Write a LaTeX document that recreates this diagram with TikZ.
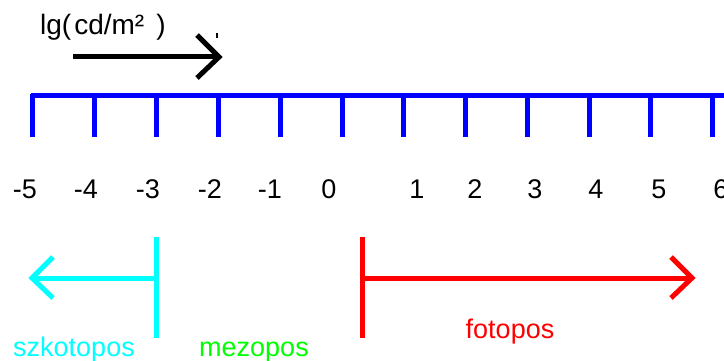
\documentclass[tikz,border=0pt]{standalone}
\usepackage{fontspec}
\setmainfont{Liberation Sans}
\definecolor{axisblue}{RGB}{0,0,255}
\definecolor{scotcyan}{RGB}{0,255,255}
\definecolor{mesogreen}{RGB}{0,255,0}
\definecolor{photored}{RGB}{255,0,0}
\tikzset{
  axisline/.style={draw=axisblue,line width=5pt},
  rangeline/.style={line width=5pt},
  chevron/.style={line width=5pt,line join=miter},
  ticklabel/.style={anchor=base,inner sep=0pt,font=\fontsize{27}{30}\selectfont},
  rangelabel/.style={anchor=base,inner sep=0pt,font=\fontsize{27}{30}\selectfont},
  unitlabel/.style={anchor=base west,inner sep=0pt,font=\fontsize{28}{30}\selectfont},
}
\begin{document}
\begin{tikzpicture}[x=1pt,y=-1pt]
\useasboundingbox (0,0) rectangle (724,361);
\clip (0,0) rectangle (724,361);
% top unit label and arrow
\node[unitlabel] (unit) at (40,35) {lg(\hspace{3pt}cd/m²\hspace{12pt})};
\coordinate (ua) at (73,57);
\coordinate (ub) at (219,57);
\draw[rangeline,black] (ua) -- (ub);
\draw[chevron,black] (197,35) -- (ub) -- (197,78);
\draw[line width=2pt,black] (217,33) -- (217,38);
% axis
\coordinate (axL) at (31,96);
\coordinate (axR) at (730,96);
\draw[axisline] (axL) -- (axR);
\foreach \x in {32,94,156,218,280,342,403,465,527,589,650,712}{
  \draw[axisline,line cap=butt] (\x,94) -- (\x,137);
}
% tick labels
\foreach \x/\t [count=\i] in {25/-5,86/-4,148/-3,210/-2,270/-1,329/0,417/1,475/2,535/3,596/4,659/5,721/6}{
  \node[ticklabel] (t\i) at (\x,198) {\t};
}
% scotopic range
\coordinate (cTop) at (156,237);
\coordinate (cBot) at (156,338);
\coordinate (cMid) at (156,278);
\coordinate (cTip) at (32,278);
\draw[rangeline,scotcyan] (cTop) -- (cBot);
\draw[rangeline,scotcyan] (cMid) -- (cTip);
\draw[chevron,scotcyan] (53,257) -- (cTip) -- (53,298);
% photopic range
\coordinate (rTop) at (362,237);
\coordinate (rBot) at (362,338);
\coordinate (rMid) at (362,278);
\coordinate (rTip) at (692,278);
\draw[rangeline,photored] (rTop) -- (rBot);
\draw[rangeline,photored] (rMid) -- (rTip);
\draw[chevron,photored] (671,257) -- (rTip) -- (671,298);
% range labels
\node[rangelabel,text=scotcyan] (szk) at (74,356) {szkotopos};
\node[rangelabel,text=mesogreen] (mez) at (254,356) {mezopos};
\node[rangelabel,text=photored] (fot) at (510,338) {fotopos};
\end{tikzpicture}
\end{document}
